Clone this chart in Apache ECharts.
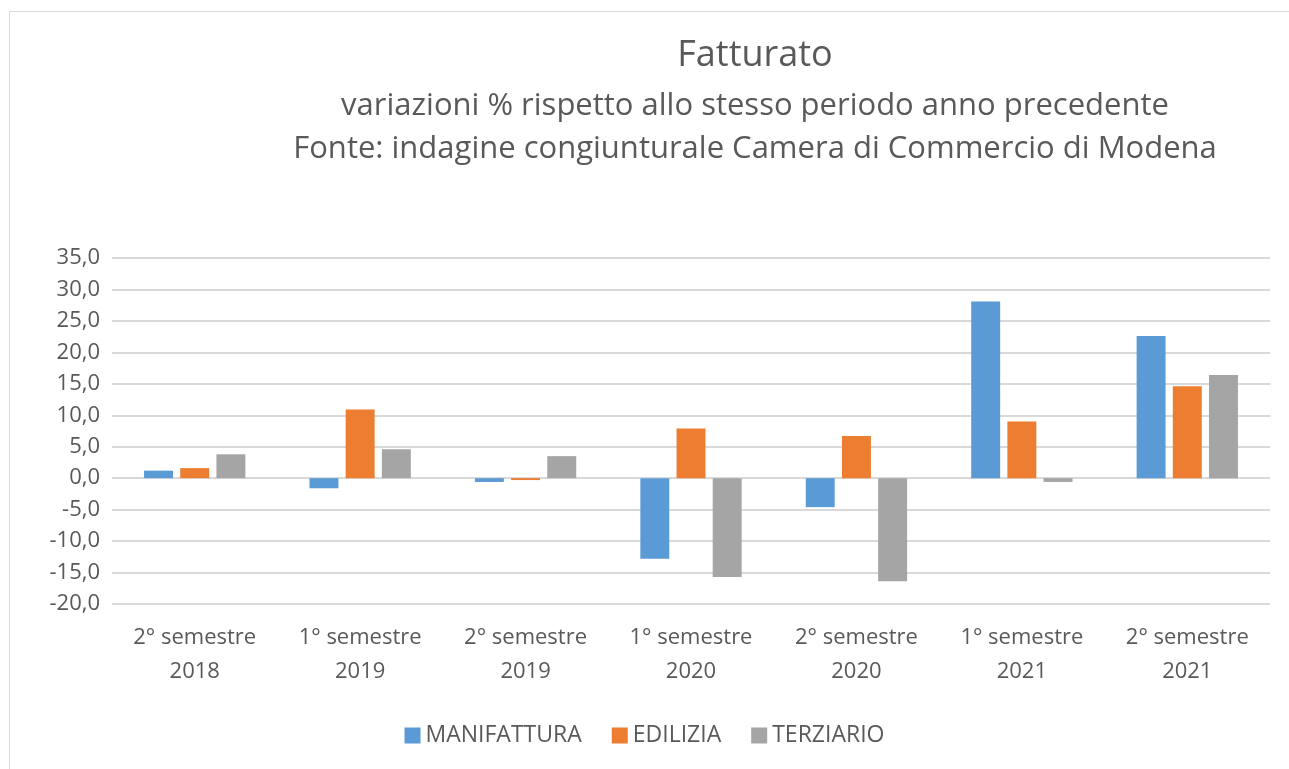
<!DOCTYPE html>
<html>
<head>
<meta charset="utf-8">
<script src="https://cdn.jsdelivr.net/npm/echarts@6/dist/echarts.min.js"></script>
<style>
    html, body { margin: 0; padding: 0; background: #fff; overflow: hidden; }
    #frame {
        position: absolute;
        left: 9px;
        top: 11px;
        width: 1300px;
        height: 780px;
        border: 1px solid #d9d9d9;
    }
    #main {
        position: absolute;
        left: 0;
        top: 0;
        width: 1289px;
        height: 769px;
    }
</style>
</head>
<body>
<div id="frame"></div>
<div id="main"></div>
<script>
// periodi
const categories = ['2° semestre\n2018', '1° semestre\n2019', '2° semestre\n2019', '1° semestre\n2020', '2° semestre\n2020', '1° semestre\n2021', '2° semestre\n2021']
// variazioni %
const manifattura = [1.2, -1.6, -0.6, -12.8, -4.6, 28.1, 22.6]
const edilizia = [1.6, 10.9, -0.3, 7.9, 6.7, 9.0, 14.6]
const terziario = [3.8, 4.6, 3.5, -15.7, -16.4, -0.6, 16.4]

var myChart = echarts.init(document.getElementById('main'))
const font = '"Open Sans", sans-serif'
let option = {
    textStyle: { fontFamily: font },
    title: [
        {
            text: 'Fatturato',
            left: 750, top: 33, textAlign: 'center',
            textStyle: { fontSize: 36, fontWeight: 'normal', color: '#595959', fontFamily: font }
        },
        {
            text: 'variazioni % rispetto allo stesso periodo anno precedente\nFonte: indagine congiunturale Camera di Commercio di Modena',
            left: 750, top: 80, textAlign: 'center',
            textStyle: { fontSize: 31, lineHeight: 43, fontWeight: 'normal', color: '#595959', fontFamily: font }
        }
    ],
    legend: {
        top: 719,
        left: 'center',
        itemWidth: 16,
        itemHeight: 16,
        itemGap: 30,
        icon: 'rect',
        textStyle: { fontSize: 23, color: '#595959', fontFamily: font },
        data: ['MANIFATTURA', 'EDILIZIA', 'TERZIARIO']
    },
    grid: {
        left: 112,
        right: 19,
        top: 258,
        bottom: 165
    },
    xAxis: {
        type: 'category',
        data: categories,
        position: 'bottom',
        axisLine: { show: false, onZero: false },
        axisTick: { show: false },
        axisLabel: {
            color: '#595959',
            fontSize: 22,
            lineHeight: 34,
            margin: 17,
            fontFamily: font
        }
    },
    yAxis: {
        type: 'value',
        min: -20,
        max: 35,
        interval: 5,
        axisLabel: {
            color: '#595959',
            fontSize: 22,
            margin: 12,
            fontFamily: font,
            formatter: v => v.toFixed(1).replace('.', ',')
        },
        splitLine: { lineStyle: { color: '#d9d9d9', width: 2 } }
    },
    series: [
        {
            name: 'MANIFATTURA', type: 'bar', data: manifattura,
            barWidth: '17.5%', barGap: '25%',
            itemStyle: { color: '#5b9bd5' }
        },
        {
            name: 'EDILIZIA', type: 'bar', data: edilizia,
            barWidth: '17.5%', barGap: '25%',
            itemStyle: { color: '#ed7d31' }
        },
        {
            name: 'TERZIARIO', type: 'bar', data: terziario,
            barWidth: '17.5%', barGap: '25%',
            itemStyle: { color: '#a5a5a5' }
        }
    ]
}
myChart.setOption(option)
</script>
</body>
</html>
